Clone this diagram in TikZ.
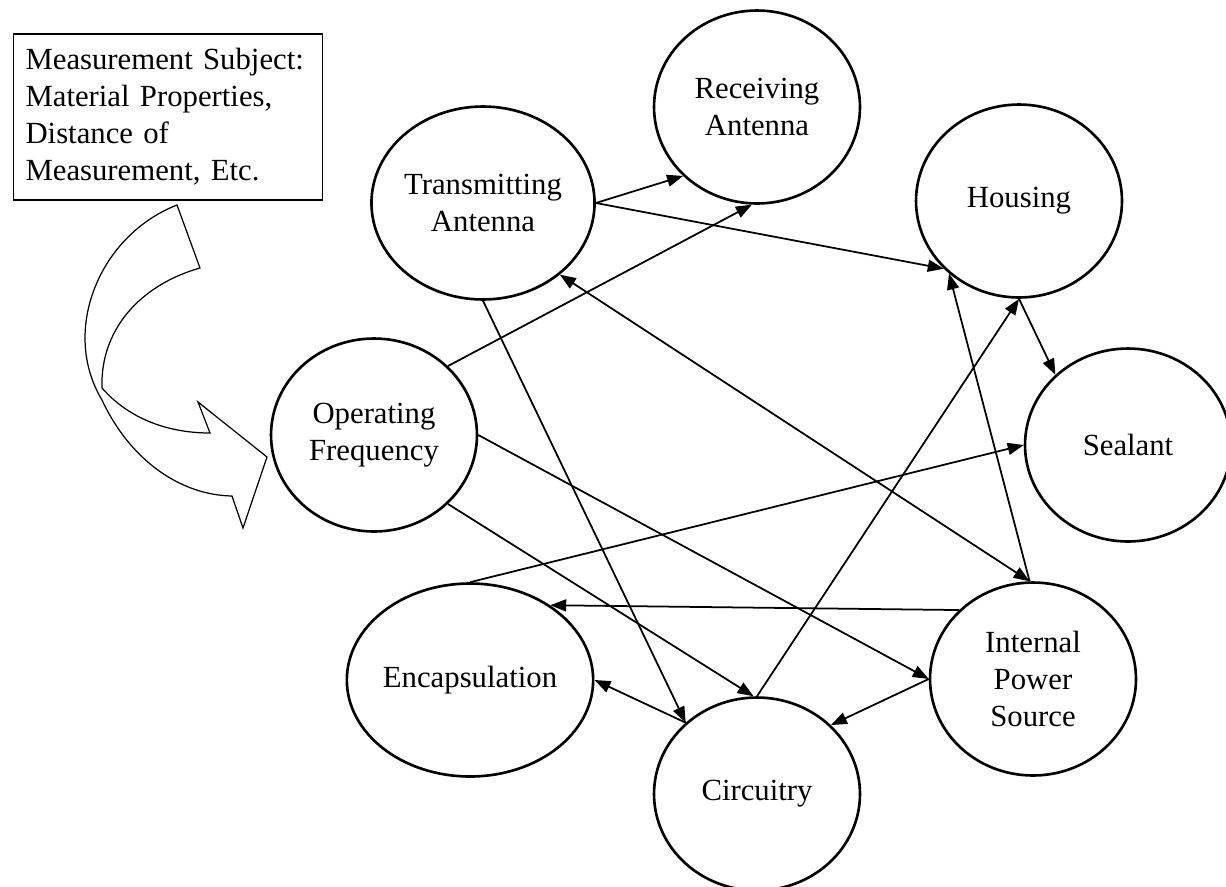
\documentclass[tikz,border=0pt]{standalone}
\usepackage{fontspec}
\setmainfont{Liberation Serif}
\usetikzlibrary{shapes.geometric,arrows.meta}

\begin{document}
\begin{tikzpicture}[x=0.02cm, y=-0.02cm, font=\fontsize{17.5}{21}\selectfont,
  >={Triangle[length=0.32cm,width=0.24cm]},
  topic/.style={draw, ellipse, line width=1.5pt, minimum width=4.12cm, minimum height=3.86cm, inner sep=0pt, align=center},
  link/.style={line width=1pt}]
  \useasboundingbox (0,0) rectangle (1226,886);

  % Subject box
  \node[draw, line width=0.9pt, minimum width=6.18cm, minimum height=3.32cm, text width=5.7cm, inner sep=0pt, align=left] (Subj) at (168,117) {Measurement Subject:\\ Material Properties,\\ Distance of\\ Measurement, Etc.};

  % Nodes
  \node[topic] (Rx) at (757,107) {Receiving\\ Antenna};
  \node[topic] (Tx) at (483,203) {Transmitting\\ Antenna};
  \node[topic] (Hous) at (1019,201) {Housing};
  \node[topic] (Seal) at (1128,445) {Sealant};
  \node[topic] (OpF) at (374,435) {Operating\\ Frequency};
  \node[topic] (Enc) at (470,680) {Encapsulation};
  \node[topic] (Circ) at (757,794) {Circuitry};
  \node[topic] (Pwr) at (1033,679) {Internal\\ Power\\ Source};

  % Curved arrow into the frequency
  \draw[line width=0.7pt] (177,205) -- (200,268)
    .. controls (140,285) and (100,330) .. (102,388)
    .. controls (130,420) and (170,433) .. (210,433)
    -- (198,402) -- (267,457) -- (243,528) -- (232,496)
    .. controls (180,495) and (130,460) .. (102,400)
    .. controls (60,330) and (100,235) .. (177,205) -- cycle;

  % Arrows
  \draw[link,->] (Tx.0) -- (Rx.223);
  \draw[link,->] (Tx.0) -- (Hous.222);
  \draw[link,->] (OpF.43) -- (Rx.267);
  \draw[link,<->] (Tx.-43) -- (Pwr.92);
  \draw[link,->] (Pwr.92) -- (Hous.226);
  \draw[link,->] (Hous.270) -- (Seal.136);
  \draw[link,->] (Circ.90) -- (Hous.270);
  \draw[link,->] (Enc.90) -- (Seal.180);
  \draw[link,->] (Pwr.137) -- (Enc.43);
  \draw[link,->] (OpF.-43) -- (Circ.92);
  \draw[link,->] (OpF.0) -- (Pwr.180);
  \draw[link,->] (Tx.270) -- (Circ.135);
  \draw[link,->] (Circ.135) -- (Enc.0);
  \draw[link,->] (Pwr.180) -- (Circ.43);
\end{tikzpicture}
\end{document}
